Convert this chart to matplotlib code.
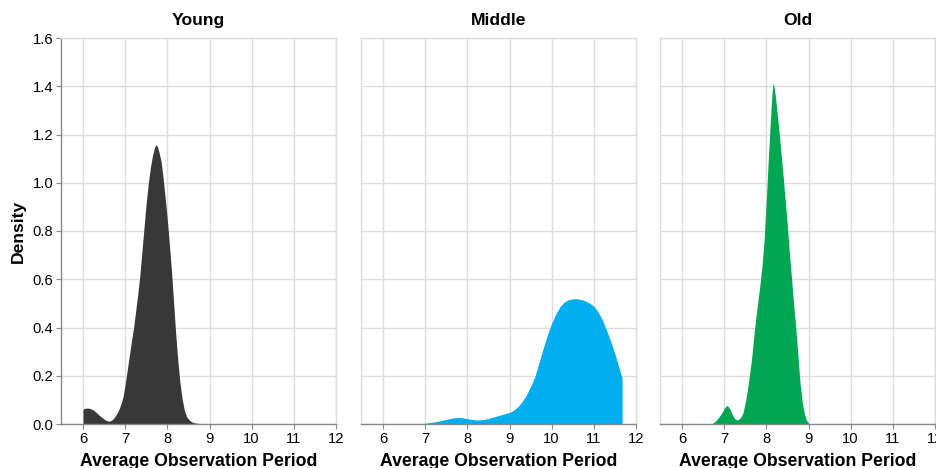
import matplotlib
matplotlib.use("Agg")
import matplotlib.pyplot as plt

# ---- data ----
panels = ["Young", "Middle", "Old"]

young_x = [6.0, 6.05, 6.1, 6.15, 6.2, 6.25, 6.3, 6.35, 6.4, 6.45, 6.5, 6.55, 6.6, 6.65,
           6.7, 6.75, 6.8, 6.85, 6.9, 6.95, 7.0, 7.05, 7.1, 7.15, 7.2, 7.25, 7.3, 7.35,
           7.4, 7.45, 7.5, 7.55, 7.6, 7.65, 7.7, 7.73, 7.76, 7.8, 7.85, 7.9, 7.95, 8.0,
           8.05, 8.1, 8.15, 8.2, 8.25, 8.3, 8.35, 8.4, 8.45, 8.5, 8.55, 8.6, 8.7, 8.9]
young_d = [0.062, 0.065, 0.066, 0.065, 0.062, 0.057, 0.05, 0.042, 0.034, 0.027, 0.02,
           0.015, 0.012, 0.013, 0.019, 0.029, 0.043, 0.06, 0.083, 0.113, 0.165, 0.225,
           0.285, 0.345, 0.4, 0.47, 0.54, 0.62, 0.72, 0.82, 0.92, 1.0, 1.065, 1.115,
           1.148, 1.158, 1.152, 1.128, 1.09, 1.02, 0.935, 0.845, 0.74, 0.63, 0.5, 0.37,
           0.26, 0.17, 0.105, 0.06, 0.033, 0.02, 0.012, 0.007, 0.003, 0.0]

middle_x = [6.6, 6.8, 7.0, 7.2, 7.4, 7.5, 7.6, 7.7, 7.8, 7.9, 8.0, 8.1, 8.2, 8.3, 8.4,
            8.5, 8.6, 8.7, 8.8, 8.9, 9.0, 9.1, 9.2, 9.3, 9.4, 9.5, 9.6, 9.7, 9.8, 9.9,
            10.0, 10.1, 10.2, 10.3, 10.4, 10.5, 10.6, 10.7, 10.8, 10.9, 11.0, 11.1,
            11.2, 11.3, 11.4, 11.5, 11.6, 11.67]
middle_d = [0.0, 0.001, 0.003, 0.008, 0.015, 0.019, 0.023, 0.026, 0.027, 0.025, 0.022,
            0.019, 0.017, 0.017, 0.019, 0.023, 0.028, 0.033, 0.038, 0.043, 0.048, 0.057,
            0.072, 0.093, 0.12, 0.155, 0.196, 0.254, 0.314, 0.37, 0.418, 0.457, 0.487,
            0.506, 0.515, 0.519, 0.519, 0.516, 0.51, 0.501, 0.488, 0.465, 0.432, 0.39,
            0.342, 0.29, 0.232, 0.19]

old_x = [6.7, 6.75, 6.8, 6.85, 6.9, 6.95, 7.0, 7.04, 7.07, 7.1, 7.15, 7.2, 7.25, 7.3,
         7.35, 7.4, 7.45, 7.5, 7.55, 7.6, 7.65, 7.7, 7.75, 7.8, 7.85, 7.9, 7.95, 8.0,
         8.05, 8.1, 8.13, 8.16, 8.19, 8.22, 8.25, 8.3, 8.35, 8.4, 8.45, 8.5, 8.55, 8.6,
         8.65, 8.7, 8.75, 8.8, 8.85, 8.9, 8.95, 9.0]
old_d = [0.0, 0.006, 0.013, 0.023, 0.035, 0.048, 0.064, 0.074, 0.076, 0.072, 0.056,
         0.036, 0.022, 0.017, 0.02, 0.03, 0.048, 0.09, 0.14, 0.203, 0.27, 0.36, 0.44,
         0.51, 0.58, 0.66, 0.77, 0.93, 1.11, 1.27, 1.36, 1.414, 1.39, 1.35, 1.30, 1.215,
         1.12, 1.025, 0.92, 0.82, 0.70, 0.598, 0.49, 0.397, 0.28, 0.17, 0.09, 0.044,
         0.015, 0.005]

series_x = [young_x, middle_x, old_x]
series_d = [young_d, middle_d, old_d]
colors = ["#383838", "#00AEEF", "#00A651"]

x_ticks = [6, 7, 8, 9, 10, 11, 12]
y_ticks = [0.0, 0.2, 0.4, 0.6, 0.8, 1.0, 1.2, 1.4, 1.6]
x_label = "Average Observation Period"
y_label = "Density"

# ---- layout ----
W, H = 936, 468
fig = plt.figure(figsize=(W / 100, H / 100), dpi=100)
font = "Liberation Sans"
plt.rcParams["font.family"] = [font, "DejaVu Sans"]

lefts = [61, 361, 660]
pw = 275
top, bottom = 38, 424

for i, name in enumerate(panels):
    ax = fig.add_axes([lefts[i] / W, 1 - bottom / H, pw / W, (bottom - top) / H])
    ax.set_xlim(5.478, 12)
    ax.set_ylim(0, 1.6)
    ax.fill_between(series_x[i], series_d[i], 0, color=colors[i], linewidth=0, zorder=3)
    ax.set_xticks(x_ticks)
    ax.set_yticks(y_ticks)
    ax.grid(True, color="#dddddd", linewidth=1, zorder=0)
    ax.set_axisbelow(True)
    for s in ["top", "right", "left"]:
        ax.spines[s].set_color("#dddddd")
        ax.spines[s].set_linewidth(1)
    ax.spines["bottom"].set_color("#888888")
    ax.spines["bottom"].set_linewidth(1)
    ax.spines["bottom"].set_zorder(4)
    ax.set_xticklabels([str(t) for t in x_ticks], fontfamily=font)
    ax.tick_params(axis="x", length=3.6, width=0.8, color="#888888", pad=2,
                   labelsize=10.6, labelcolor="#000000")
    if i == 0:
        ax.spines["left"].set_color("#888888")
        ax.set_yticklabels([f"{t:.1f}" for t in y_ticks], fontfamily=font)
        ax.tick_params(axis="y", length=3.6, width=0.8, color="#888888", pad=2,
                       labelsize=10.6, labelcolor="#000000")
    else:
        ax.tick_params(axis="y", length=0, labelleft=False)
    cx = (lefts[i] + pw / 2) / W
    fig.text(cx, 1 - 25 / H, name, ha="center", va="baseline", fontsize=12.6,
             fontweight="bold", fontfamily=font)
    fig.text(cx, 1 - 466 / H, x_label, ha="center", va="baseline", fontsize=12.7,
             fontweight="bold", fontfamily=font)

fig.text(18 / W, 1 - 231 / H, y_label, rotation=90, ha="center", va="center",
         fontsize=12.6, fontweight="bold", fontfamily=font)

fig.savefig("out.png", dpi=100)
